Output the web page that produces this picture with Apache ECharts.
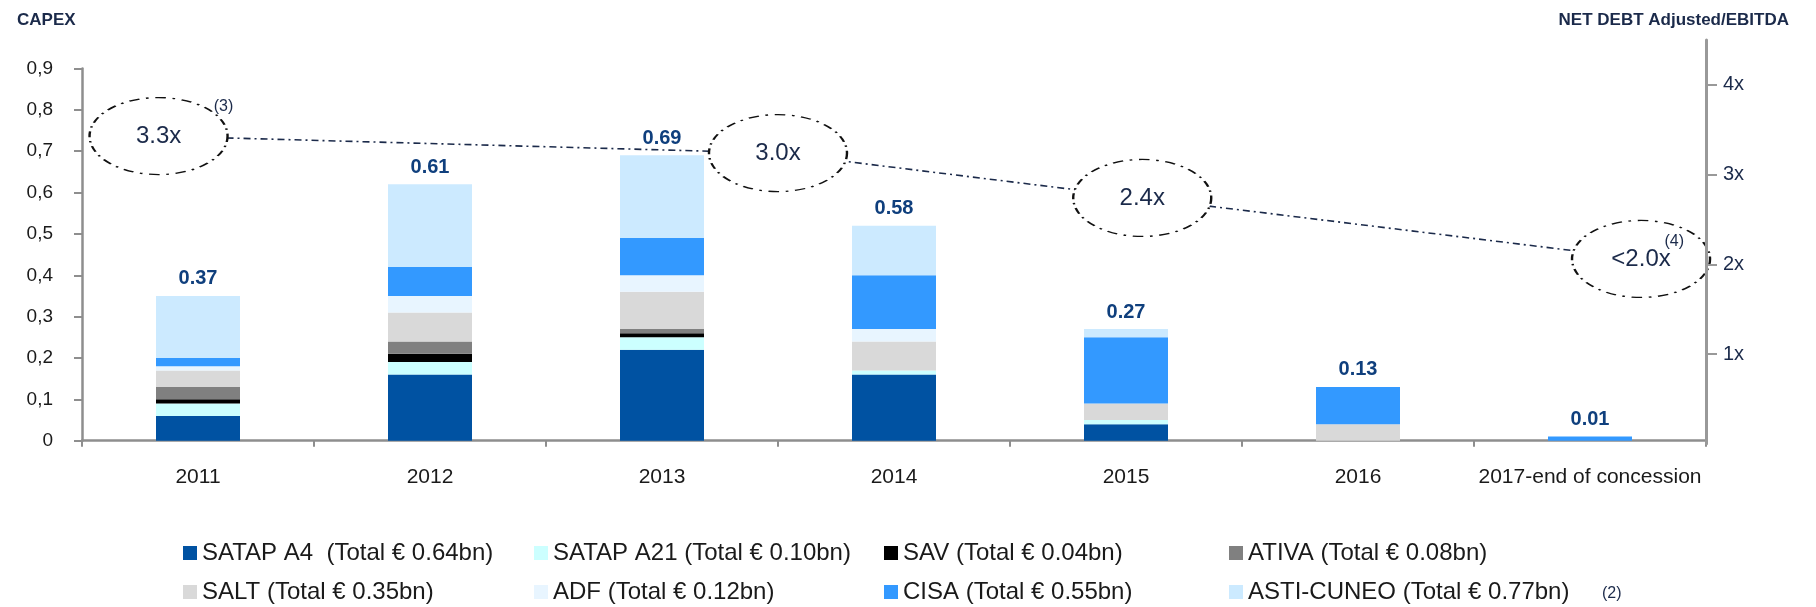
<!DOCTYPE html>
<html>
<head>
<meta charset="utf-8">
<script src="https://cdn.jsdelivr.net/npm/echarts@6/dist/echarts.min.js"></script>
<style>
html,body{margin:0;padding:0;background:#fff;}
#c{width:1816px;height:607px;}
</style>
</head>
<body>
<div id="c"></div>
<script>
// ---- data ----
const categories = ['2011', '2012', '2013', '2014', '2015', '2016', '2017-end of concession'];
const satapA4   = [0.06, 0.16, 0.22, 0.16, 0.04, 0.00, 0.00];
const satapA21  = [0.03, 0.03, 0.03, 0.01, 0.01, 0.00, 0.00];
const sav       = [0.01, 0.02, 0.01, 0.00, 0.00, 0.00, 0.00];
const ativa     = [0.03, 0.03, 0.01, 0.00, 0.00, 0.00, 0.00];
const salt      = [0.04, 0.07, 0.09, 0.07, 0.04, 0.04, 0.00];
const adf       = [0.01, 0.04, 0.04, 0.03, 0.00, 0.00, 0.00];
const cisa      = [0.02, 0.07, 0.09, 0.13, 0.16, 0.09, 0.01];
const astiCuneo = [0.15, 0.20, 0.20, 0.12, 0.02, 0.00, 0.00];
const totalLabels = ['0.37', '0.61', '0.69', '0.58', '0.27', '0.13', '0.01'];
const seriesNames = [
  'SATAP A4  (Total € 0.64bn)', 'SATAP A21 (Total € 0.10bn)', 'SAV (Total € 0.04bn)', 'ATIVA (Total € 0.08bn)',
  'SALT (Total € 0.35bn)', 'ADF (Total € 0.12bn)', 'CISA (Total € 0.55bn)', 'ASTI-CUNEO (Total € 0.77bn)'
];
const seriesValues = [satapA4, satapA21, sav, ativa, salt, adf, cisa, astiCuneo];
// leverage (net debt adjusted / EBITDA) annotation: position along categories and on right axis
const leverageX = [0.33, 3.00, 4.57, 6.72];
const leverageY = [3.43, 3.24, 2.74, 2.06];
const leverageLabels = ['3.3x', '3.0x', '2.4x', '<2.0x'];
const leverageNotes = ['(3)', '', '', '(4)'];
const rightTicks = [1, 2, 3, 4];

// ---- styles ----
const colors = ['#0052a2', '#ccffff', '#000000', '#808080', '#d9d9d9', '#e8f5ff', '#3399ff', '#cceaff'];
const FONT = '"Liberation Sans", Arial, sans-serif';
const NAVY = '#1b2a4a';
const AXIS_GREY = '#8e8e8e';

const chart = echarts.init(document.getElementById('c'), null, {renderer: 'canvas'});

const barSeries = seriesNames.map((name, i) => ({
  name: name,
  type: 'bar',
  stack: 'capex',
  xAxisIndex: 0,
  yAxisIndex: 0,
  barWidth: 84,
  itemStyle: {color: colors[i]},
  data: seriesValues[i],
  z: 2,
  label: i === seriesNames.length - 1 ? {
    show: true,
    position: 'top',
    distance: 7,
    formatter: p => totalLabels[p.dataIndex],
    fontFamily: FONT,
    fontSize: 20,
    fontWeight: 'bold',
    color: '#0f3f7d'
  } : {show: false}
}));

const lineDash = [7, 4, 2, 4];

const legendCols = [183, 534, 884, 1229];
const legendRows = [541, 580];
const legends = seriesNames.map((name, i) => ({
  data: [name],
  left: legendCols[i % 4],
  top: legendRows[Math.floor(i / 4)],
  padding: 0,
  icon: 'rect',
  itemWidth: 14,
  itemHeight: 14,
  itemGap: 0,
  selectedMode: false,
  textStyle: {fontFamily: FONT, fontSize: 24, color: '#1a1a1a', padding: [0, 0, 0, 0]}
}));

const option = {
  animation: false,
  backgroundColor: '#ffffff',
  textStyle: {fontFamily: FONT},
  title: [
    {text: 'CAPEX', left: 12, top: 7, textStyle: {fontFamily: FONT, fontSize: 17, fontWeight: 'bold', color: NAVY}},
    {text: 'NET DEBT Adjusted/EBITDA', right: 22, top: 7, textStyle: {fontFamily: FONT, fontSize: 17, fontWeight: 'bold', color: NAVY}},
    {text: '(2)', left: 1597, top: 581, textStyle: {fontFamily: FONT, fontSize: 16, fontWeight: 'normal', color: NAVY}}
  ],
  legend: legends,
  grid: [
    {left: 82, right: 110, top: 68.5, bottom: 166.3, containLabel: false},
    {left: 82, right: 110, top: 40.1, bottom: 163.3, containLabel: false}
  ],
  xAxis: [
    {
      type: 'category',
      gridIndex: 0,
      data: categories,
      boundaryGap: true,
      axisLine: {show: true, lineStyle: {color: AXIS_GREY, width: 2.5}},
      axisTick: {show: true, length: 6, interval: 0, lineStyle: {color: AXIS_GREY, width: 2}},
      axisLabel: {margin: 26, interval: 0, fontFamily: FONT, fontSize: 21, color: '#1a1a1a'},
      splitLine: {show: false}
    },
    {
      type: 'value',
      gridIndex: 1,
      min: 0,
      max: 7,
      show: false
    }
  ],
  yAxis: [
    {
      type: 'value',
      gridIndex: 0,
      min: 0,
      max: 0.9,
      interval: 0.1,
      axisLine: {show: true, lineStyle: {color: AXIS_GREY, width: 2.5}},
      axisTick: {show: true, length: 8, lineStyle: {color: AXIS_GREY, width: 2}},
      axisLabel: {
        margin: 29,
        fontFamily: FONT,
        fontSize: 19,
        color: '#1a1a1a',
        formatter: v => (v === 0 ? '0' : v.toFixed(1).replace('.', ','))
      },
      splitLine: {show: false}
    },
    {
      type: 'value',
      gridIndex: 1,
      position: 'right',
      min: 0,
      max: 4.5,
      interval: 1,
      z: 10,
      axisLine: {show: true, onZero: false, lineStyle: {color: '#999999', width: 3}},
      axisTick: {show: true, length: 11, customValues: rightTicks, lineStyle: {color: '#999999', width: 2}},
      axisLabel: {
        margin: 17,
        customValues: rightTicks,
        fontFamily: FONT,
        fontSize: 20,
        color: NAVY,
        formatter: v => v + 'x'
      },
      splitLine: {show: false}
    }
  ],
  series: barSeries.concat([
    {
      type: 'line',
      xAxisIndex: 1,
      yAxisIndex: 1,
      data: leverageX.map((x, i) => [x, leverageY[i]]),
      symbol: 'none',
      lineStyle: {color: NAVY, width: 1.6, type: lineDash},
      z: 3,
      silent: true
    },
    {
      type: 'scatter',
      xAxisIndex: 1,
      yAxisIndex: 1,
      data: leverageX.map((x, i) => [x, leverageY[i]]),
      symbol: 'circle',
      symbolSize: [138, 77],
      itemStyle: {color: '#ffffff', opacity: 1, borderColor: '#111111', borderWidth: 1.8, borderType: [8, 5, 2, 5]},
      label: {
        show: true,
        position: 'inside',
        formatter: p => leverageLabels[p.dataIndex],
        fontFamily: FONT,
        fontSize: 24,
        color: NAVY
      },
      z: 4,
      silent: true
    },
    {
      type: 'scatter',
      xAxisIndex: 1,
      yAxisIndex: 1,
      symbol: 'circle',
      symbolSize: [138, 77],
      itemStyle: {color: 'rgba(255,255,255,0)', opacity: 1},
      label: {
        show: true,
        formatter: p => leverageNotes[p.dataIndex],
        fontFamily: FONT,
        fontSize: 16,
        color: NAVY
      },
      z: 5,
      silent: true,
      data: leverageX.map((x, i) => ({
        value: [x, leverageY[i]],
        label: {position: i === 0 ? ['90%', '1%'] : ['67%', '17%']}
      }))
    }
  ])
};

chart.setOption(option);
</script>
</body>
</html>
